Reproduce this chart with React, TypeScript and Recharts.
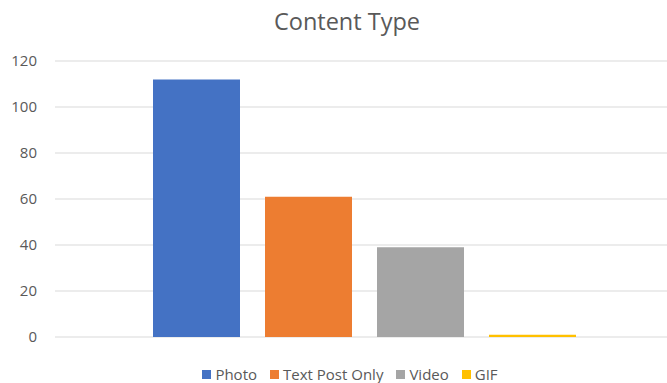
import { BarChart, Bar, XAxis, YAxis, CartesianGrid, Legend } from 'recharts';

const categories = [''];
const seriesNames = ['Photo', 'Text Post Only', 'Video', 'GIF'];
const seriesValues = [112, 61, 39, 1];
const seriesColors = ['#4472C4', '#ED7D31', '#A5A5A5', '#FFC000'];
const yTicks = [0, 20, 40, 60, 80, 100, 120];

const FONT = '"Open Sans", "Noto Sans", sans-serif';

const data = categories.map((name) => {
  const row: Record<string, string | number> = { name };
  seriesNames.forEach((s, i) => {
    row[s] = seriesValues[i];
  });
  return row;
});

function LegendContent() {
  return (
    <div
      style={{
        height: 46,
        display: 'flex',
        alignItems: 'flex-end',
        justifyContent: 'center',
        boxSizing: 'border-box',
        fontFamily: FONT,
        fontSize: 15,
        color: '#595959',
      }}
    >
      <div style={{ display: 'flex', gap: 13, marginLeft: 26, lineHeight: '18px' }}>
        {seriesNames.map((s, i) => (
          <span key={s} style={{ display: 'flex', alignItems: 'center' }}>
            <span
              style={{
                display: 'inline-block',
                width: 9,
                height: 9,
                background: seriesColors[i],
                marginRight: 4,
              }}
            />
            {s}
          </span>
        ))}
      </div>
    </div>
  );
}

export default function App() {
  return (
    <div style={{ position: 'absolute', left: 0, top: 0, width: 667, height: 383, background: '#fff', overflow: 'hidden' }}>
      <div
        style={{
          position: 'absolute',
          top: 5,
          left: 0,
          width: 694,
          textAlign: 'center',
          fontFamily: FONT,
          fontSize: 23.5,
          color: '#595959',
        }}
      >
        Content Type
      </div>
      <BarChart
        width={667}
        height={383}
        data={data}
        margin={{ top: 61, right: -7, left: 0, bottom: 0 }}
        barGap={25}
      >
        <CartesianGrid vertical={false} stroke="#d9d9d9" />
        <XAxis dataKey="name" hide />
        <YAxis
          domain={[0, 120]}
          ticks={yTicks}
          width={55}
          axisLine={false}
          tickLine={false}
          tickSize={0}
          tickMargin={18}
          tick={{ fill: '#595959', fontSize: 15, fontFamily: FONT }}
        />
        <Legend verticalAlign="bottom" height={46} content={<LegendContent />} />
        {seriesNames.map((s, i) => (
          <Bar key={s} dataKey={s} fill={seriesColors[i]} barSize={87} isAnimationActive={false} />
        ))}
      </BarChart>
    </div>
  );
}
